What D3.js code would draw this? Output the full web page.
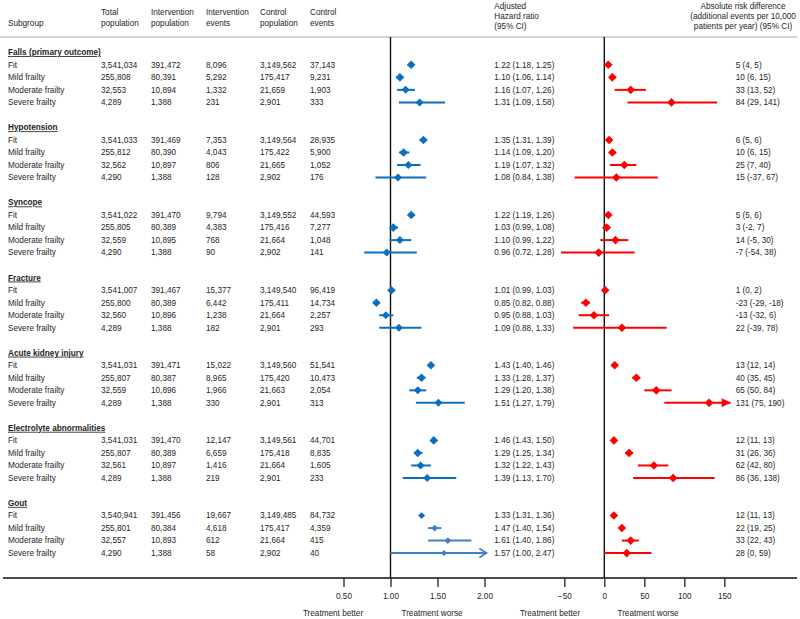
<!DOCTYPE html>
<html><head><meta charset="utf-8">
<script src="https://cdn.jsdelivr.net/npm/d3@7"></script>
<style>
html,body{margin:0;padding:0;background:#fff;}
svg{display:block;font-family:"Liberation Sans",Arial,sans-serif;}
</style></head>
<body>
<svg id="chart" width="800" height="619"></svg>
<script>
const outcomes = ["Falls (primary outcome)","Hypotension","Syncope","Fracture","Acute kidney injury","Electrolyte abnormalities","Gout"];
const subgroups = ["Fit","Mild frailty","Moderate frailty","Severe frailty"];
const totalPop = [
 [3541034,255808,32553,4289],[3541033,255812,32562,4290],[3541022,255805,32559,4290],
 [3541007,255800,32560,4289],[3541031,255807,32559,4289],[3541031,255807,32561,4289],[3540941,255801,32557,4290]];
const intPop = [
 [391472,80391,10894,1388],[391469,80390,10897,1388],[391470,80389,10895,1388],
 [391467,80389,10896,1388],[391471,80387,10896,1388],[391470,80389,10897,1388],[391456,80384,10893,1388]];
const intEvents = [
 [8096,5292,1332,231],[7353,4043,806,128],[9794,4383,768,90],
 [15377,6442,1238,182],[15022,8965,1966,330],[12147,6659,1416,219],[19667,4618,612,58]];
const ctrlPop = [
 [3149562,175417,21659,2901],[3149564,175422,21665,2902],[3149552,175416,21664,2902],
 [3149540,175411,21664,2901],[3149560,175420,21663,2901],[3149561,175418,21664,2901],[3149485,175417,21664,2902]];
const ctrlEvents = [
 [37143,9231,1903,333],[28935,5900,1052,176],[44593,7277,1048,141],
 [96419,14734,2257,293],[51541,10473,2054,313],[44701,8835,1605,233],[84732,4359,415,40]];
// Hazard ratio [estimate, lower, upper]
const hr = [
 [[1.22,1.18,1.25],[1.10,1.06,1.14],[1.16,1.07,1.26],[1.31,1.09,1.58]],
 [[1.35,1.31,1.39],[1.14,1.09,1.20],[1.19,1.07,1.32],[1.08,0.84,1.38]],
 [[1.22,1.19,1.26],[1.03,0.99,1.08],[1.10,0.99,1.22],[0.96,0.72,1.28]],
 [[1.01,0.99,1.03],[0.85,0.82,0.88],[0.95,0.88,1.03],[1.09,0.88,1.33]],
 [[1.43,1.40,1.46],[1.33,1.28,1.37],[1.29,1.20,1.38],[1.51,1.27,1.79]],
 [[1.46,1.43,1.50],[1.29,1.25,1.34],[1.32,1.22,1.43],[1.39,1.13,1.70]],
 [[1.33,1.31,1.36],[1.47,1.40,1.54],[1.61,1.40,1.86],[1.57,1.00,2.47]]];
// Absolute risk difference [estimate, lower, upper]
const ard = [
 [[5,4,5],[10,6,15],[33,13,52],[84,29,141]],
 [[6,5,6],[10,6,15],[25,7,40],[15,-37,67]],
 [[5,5,6],[3,-2,7],[14,-5,30],[-7,-54,38]],
 [[1,0,2],[-23,-29,-18],[-13,-32,6],[22,-39,78]],
 [[13,12,14],[40,35,45],[65,50,84],[131,75,190]],
 [[12,11,13],[31,26,36],[62,42,80],[86,36,138]],
 [[12,11,13],[22,19,25],[33,22,43],[28,0,59]]];
const hrTicks = [0.5,1.0,1.5,2.0];
const ardTicks = [-50,0,50,100,150];
const colHeaders = [["Total","population"],["Intervention","population"],["Intervention","events"],["Control","population"],["Control","events"]];

const svg = d3.select("#chart");
const FS = 8.2, TXT = "#1e1e1e";
const fmtN = d3.format(","), fmtHR = d3.format(".2f");

const xHR = d3.scaleLinear().domain([0.5,2.0]).range([343.5,484.5]);
const xARD = d3.scaleLinear().domain([-50,150]).range([564.3,724.3]);
const hrMax = 2.02, ardMax = 158;
const yRow = d3.scaleLinear().domain([0,41]).range([52.3, 52.3+41*12.52]);
const colX = [101,151,206,260,310];
const axisY = 578, topY = 37;

// header
svg.append("text").attr("x",8).attr("y",22.7).attr("dy","0.35em").attr("font-size",FS).attr("fill",TXT).text("Subgroup");
colHeaders.forEach((h,i)=>{
  h.forEach((t,j)=>svg.append("text").attr("x",colX[i]).attr("y",12.3+j*10.4).attr("dy","0.35em").attr("font-size",FS).attr("fill",TXT).text(t));
});
["Adjusted","Hazard ratio","(95% CI)"].forEach((t,j)=>svg.append("text").attr("x",494.3).attr("y",6+j*9.9).attr("dy","0.35em").attr("font-size",FS).attr("fill",TXT).text(t));
["Absolute risk difference","(additional events per 10,000","patients per year) (95% CI)"].forEach((t,j)=>svg.append("text").attr("x",743).attr("y",6+j*9.9).attr("dy","0.35em").attr("text-anchor","middle").attr("font-size",FS).attr("fill",TXT).text(t));
svg.append("line").attr("x1",0).attr("x2",797).attr("y1",topY).attr("y2",topY).attr("stroke","#c4c4c4").attr("stroke-width",1.6);

// reference lines
svg.append("line").attr("x1",xHR(1)).attr("x2",xHR(1)).attr("y1",topY).attr("y2",axisY).attr("stroke","#111").attr("stroke-width",1.4);
svg.append("line").attr("x1",xARD(0)).attr("x2",xARD(0)).attr("y1",topY).attr("y2",axisY).attr("stroke","#111").attr("stroke-width",1.4);

// rows
const diamond = (g,cx,cy,r,col)=>g.append("path").attr("d",`M${cx},${cy-r}L${cx+r},${cy}L${cx},${cy+r}L${cx-r},${cy}Z`).attr("fill",col);

outcomes.forEach((o,g)=>{
  const hy = yRow(g*6);
  svg.append("text").attr("x",8).attr("y",hy).attr("dy","0.35em").attr("font-size",FS).attr("font-weight","bold").attr("text-decoration","underline").attr("fill",TXT).text(o);
  subgroups.forEach((s,i)=>{
    const y = yRow(g*6+1+i);
    const vals = [totalPop[g][i],intPop[g][i],intEvents[g][i],ctrlPop[g][i],ctrlEvents[g][i]];
    svg.append("text").attr("x",8).attr("y",y).attr("dy","0.35em").attr("font-size",FS).attr("fill",TXT).text(s);
    vals.forEach((v,k)=>svg.append("text").attr("x",colX[k]).attr("y",y).attr("dy","0.35em").attr("font-size",FS).attr("fill",TXT).text(fmtN(v)));
    const h = hr[g][i], a = ard[g][i];
    svg.append("text").attr("x",494.3).attr("y",y).attr("dy","0.35em").attr("font-size",FS).attr("fill",TXT)
      .text(`${fmtHR(h[0])} (${fmtHR(h[1])}, ${fmtHR(h[2])})`);
    svg.append("text").attr("x",735.7).attr("y",y).attr("dy","0.35em").attr("font-size",FS).attr("fill",TXT)
      .text(`${a[0]} (${a[1]}, ${a[2]})`);
    // HR marks
    const blue = (g===6 && i>0) ? "#3f7fc6" : "#0a6fc0";
    const hHi = Math.min(h[2],hrMax);
    svg.append("line").attr("x1",xHR(h[1])).attr("x2",xHR(hHi)).attr("y1",y).attr("y2",y).attr("stroke",blue).attr("stroke-width",2);
    if (h[2] > hrMax) {
      const tx = xHR(hrMax);
      svg.append("path").attr("d",`M${tx-7},${y-4.5}L${tx},${y}L${tx-7},${y+4.5}`).attr("fill","none").attr("stroke",blue).attr("stroke-width",1.8);
    }
    const dr = g===6 ? (i===3 ? 3 : 3.4) : (i<2 ? 4.3 : 4);
    diamond(svg, xHR(h[0]), y, dr, blue);
    // ARD marks
    const aHi = Math.min(a[2],ardMax);
    svg.append("line").attr("x1",xARD(a[1])).attr("x2",xARD(aHi)).attr("y1",y).attr("y2",y).attr("stroke","#ff0000").attr("stroke-width",2);
    if (a[2] > ardMax) {
      const tx = xARD(ardMax);
      svg.append("path").attr("d",`M${tx-9},${y-4.5}L${tx},${y}L${tx-9},${y+4.5}Z`).attr("fill","#ff0000");
    }
    diamond(svg, xARD(a[0]), y, 4.3, "#ff0000");
  });
});

// bottom axis
svg.append("line").attr("x1",3).attr("x2",797).attr("y1",axisY).attr("y2",axisY).attr("stroke","#111").attr("stroke-width",1.4);
const gH = svg.append("g").attr("transform",`translate(0,${axisY})`).call(d3.axisBottom(xHR).tickValues(hrTicks).tickFormat(d3.format(".2f")).tickSize(9).tickPadding(6));
const gA = svg.append("g").attr("transform",`translate(0,${axisY})`).call(d3.axisBottom(xARD).tickValues(ardTicks).tickFormat(d3.format("d")).tickSize(9).tickPadding(6));
[gH,gA].forEach(ax=>{
  ax.select(".domain").remove();
  ax.selectAll(".tick line").attr("stroke","#333").attr("stroke-width",1.4);
  ax.selectAll(".tick text").attr("font-size",FS).attr("fill",TXT).attr("font-family","Liberation Sans, Arial, sans-serif");
});
[["Treatment better",333],["Treatment worse",432],["Treatment better",550],["Treatment worse",648]].forEach(([t,x])=>
  svg.append("text").attr("x",x).attr("y",613).attr("dy","0.35em").attr("text-anchor","middle").attr("font-size",FS).attr("fill",TXT).text(t));
</script>
</body></html>
